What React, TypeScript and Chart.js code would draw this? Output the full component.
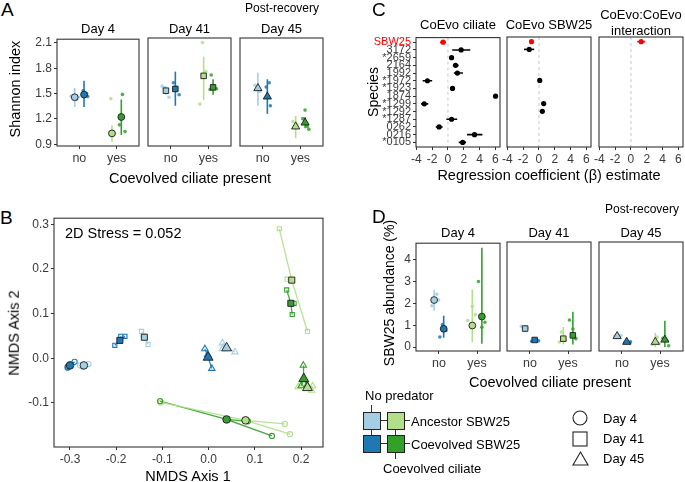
import React, { useEffect, useRef } from 'react';
import { Chart, registerables } from 'chart.js';

Chart.register(...registerables);

const FONT = '"Liberation Sans", Arial, Helvetica, sans-serif';
const INK = '#1a1a1a';
const AXIS_INK = '#333333';
const TICK_TEXT = '#3a3a3a';

// ---------- shared factors ----------
const ciliateLevels = ['no', 'yes'];
const dayLabels = ['Day 4', 'Day 41', 'Day 45'];
const dayShapes = ['circle', 'rect', 'triangle'];
const groupNames = [
  'Ancestor SBW25, no predator',
  'Coevolved SBW25, no predator',
  'Ancestor SBW25, coevolved ciliate',
  'Coevolved SBW25, coevolved ciliate',
];
const groupColors = ['#a6cee3', '#1f78b4', '#b2df8a', '#33a02c'];
const groupCiliate = [0, 0, 1, 1];

// ---------- A: Shannon index ----------
const shannonTicks = [0.9, 1.2, 1.5, 1.8, 2.1];
const shannonMean = [
  [1.457, 1.488, 1.029, 1.223],
  [1.527, 1.547, 1.7, 1.566],
  [1.555, 1.457, 1.107, 1.153],
];
const shannonLow = [
  [1.34, 1.34, 0.93, 1.01],
  [1.48, 1.35, 1.42, 1.48],
  [1.35, 1.255, 0.97, 1.087],
];
const shannonHigh = [
  [1.567, 1.652, 1.126, 1.43],
  [1.58, 1.75, 1.925, 1.66],
  [1.737, 1.66, 1.23, 1.22],
];
// replicates: [jitter, value]
const shannonReps = [
  [
    [[-0.1, 1.47], [0.06, 1.43], [0.1, 1.46]],
    [[-0.02, 1.535], [0.07, 1.5], [0.1, 1.465]],
    [[-0.03, 1.44], [-0.07, 1.035], [0.07, 1.03]],
    [[0.03, 1.49], [-0.05, 1.13], [0.1, 1.05]],
  ],
  [
    [[-0.1, 1.58], [0.08, 1.45], [-0.05, 1.56]],
    [[-0.05, 1.62], [0.1, 1.48], [0.0, 1.57]],
    [[-0.03, 2.09], [0.06, 1.75], [-0.1, 1.37]],
    [[-0.05, 1.71], [-0.08, 1.54], [0.09, 1.55]],
  ],
  [
    [[-0.08, 1.59], [0.0, 1.55], [0.05, 1.52]],
    [[-0.03, 1.57], [0.05, 1.62], [0.08, 1.35]],
    [[-0.07, 1.165], [0.04, 1.126], [0.0, 1.1]],
    [[0.0, 1.3], [-0.06, 1.2], [0.1, 1.075], [0.06, 1.107]],
  ],
];

// ---------- D: SBW25 abundance ----------
const abundTicks = [0, 1, 2, 3, 4];
const abundMean = [
  [2.16, 0.84, 0.99, 1.4],
  [0.84, 0.32, 0.38, 0.53],
  [0.49, 0.23, 0.23, 0.33],
];
const abundLow = [
  [1.67, 0.43, 0.23, 0.15],
  [0.68, 0.23, 0.12, 0.12],
  [0.38, 0.12, 0.0, 0.0],
];
const abundHigh = [
  [2.62, 1.44, 2.66, 4.56],
  [0.99, 0.43, 0.91, 1.6],
  [0.6, 0.33, 0.64, 1.19],
];
const abundReps = [
  [
    [[-0.06, 1.9], [0.07, 2.43], [0.12, 2.16]],
    [[-0.1, 0.46], [-0.03, 1.03], [0.06, 0.76]],
    [[-0.12, 1.22], [0.0, 1.86], [0.08, 1.49]],
    [[-0.09, 3.01], [0.0, 0.91], [0.08, 1.14]],
  ],
  [
    [[-0.1, 0.94], [0.05, 0.86], [0.0, 0.74]],
    [[-0.08, 0.26], [0.05, 0.33], [0.1, 0.28]],
    [[-0.05, 0.68], [-0.1, 0.23], [0.06, 0.3]],
    [[-0.09, 1.23], [0.0, 0.82], [0.08, 0.38]],
  ],
  [
    [[-0.06, 0.5], [0.05, 0.45], [0.1, 0.52]],
    [[-0.05, 0.2], [0.08, 0.18], [0.1, 0.24]],
    [[-0.08, 0.12], [0.05, 0.45], [0.1, 0.15]],
    [[0.1, 0.06], [-0.05, 0.4], [0.05, 0.3]],
  ],
];

// ---------- B: NMDS ----------
const nmdsXTicks = [-0.3, -0.2, -0.1, 0.0, 0.1, 0.2];
const nmdsYTicks = [-0.1, 0.0, 0.1, 0.2, 0.3];
const nmdsStress = '2D Stress = 0.052';
const nmdsMeans = [
  [[-0.27, -0.016], [-0.3, -0.016], [0.08, -0.139], [0.039, -0.137]],
  [[-0.139, 0.047], [-0.192, 0.04], [0.18, 0.175], [0.178, 0.123]],
  [[0.039, 0.023], [-0.001, 0.002], [0.214, -0.066], [0.206, -0.046]],
];
const nmdsReps = [
  [
    [[-0.26, -0.013], [-0.272, -0.019], [-0.278, -0.016]],
    [[-0.305, -0.021], [-0.29, -0.008], [-0.305, -0.019]],
    [[-0.103, -0.099], [0.165, -0.147], [0.176, -0.17]],
    [[-0.105, -0.096], [0.137, -0.174], [0.085, -0.141]],
  ],
  [
    [[-0.145, 0.06], [-0.131, 0.031], [-0.141, 0.05]],
    [[-0.203, 0.029], [-0.19, 0.049], [-0.181, 0.049]],
    [[0.153, 0.29], [0.17, 0.177], [0.214, 0.06]],
    [[0.169, 0.153], [0.185, 0.123], [0.181, 0.098]],
  ],
  [
    [[0.03, 0.034], [0.057, 0.014], [0.03, 0.021]],
    [[-0.008, 0.021], [0.007, -0.023], [-0.002, 0.008]],
    [[0.194, -0.064], [0.223, -0.072], [0.225, -0.062]],
    [[0.205, -0.016], [0.213, -0.06], [0.2, -0.062]],
  ],
];

// ---------- C: regression coefficients ----------
const species = ['SBW25', '3172', '*2659', '2164', '1992', '*1972', '*1923', '1874', '*1299', '*1292', '*1287', '0262', '0216', '*0105'];
const coefTicks = [-4, -2, 0, 2, 4, 6];
const coefTitles = ['CoEvo ciliate', 'CoEvo SBW25'];
const coefCiliate = [-0.62, 1.67, 0.46, 0.96, 1.2, -2.6, 0.58, 6.04, -3.0, null, 0.46, -1.12, 3.37, 1.87];
const coefCiliateLo = [-1.0, 0.54, 0.3, 0.65, 0.75, -3.2, 0.42, 5.9, -3.4, null, -0.2, -1.54, 2.42, 1.37];
const coefCiliateHi = [-0.25, 2.83, 0.62, 1.35, 1.9, -2.0, 0.74, 6.18, -2.5, null, 1.17, -0.67, 4.37, 2.3];
const coefSbw = [-0.94, -1.23, null, null, null, 0.1, null, null, 0.6, 0.43, null, null, null, null];
const coefSbwLo = [-1.15, -1.9, null, null, null, -0.05, null, null, 0.45, 0.25, null, null, null, null];
const coefSbwHi = [-0.75, -0.6, null, null, null, 0.25, null, null, 0.75, 0.6, null, null, null, null];
const coefInter = [1.3, null, null, null, null, null, null, null, null, null, null, null, null, null];
const coefInterLo = [0.8, null, null, null, null, null, null, null, null, null, null, null, null, null];
const coefInterHi = [1.8, null, null, null, null, null, null, null, null, null, null, null, null, null];

// ---------- layout constants ----------
const DODGE = [-0.125, 0.125, -0.125, 0.125];
const MEAN_R = [3.4, 3.9, 4.7];
const NMDS_MEAN_R = [3.8, 4.3, 5.7];
const NMDS_REP_R = [2.6, 2.9, 3.7];
const TICK_SIZE = 12;

const toRgba = (hex: string, a: number) => {
  const n = parseInt(hex.slice(1), 16);
  return `rgba(${(n >> 16) & 255},${(n >> 8) & 255},${n & 255},${a})`;
};

type Box = { l: number; t: number; r: number; b: number };
type Pad = { l: number; t: number; r: number; b: number };
type Spec = { key: string; box: Box; pad: Pad; build: (pad: Pad) => any };

const panelBorder = {
  id: 'panelBorder',
  afterDatasetsDraw(chart: any) {
    const { ctx, chartArea } = chart;
    ctx.save();
    ctx.strokeStyle = AXIS_INK;
    ctx.lineWidth = 1.1;
    ctx.strokeRect(chartArea.left, chartArea.top, chartArea.right - chartArea.left, chartArea.bottom - chartArea.top);
    ctx.restore();
  },
};

function axis(opts: {
  min: number; max: number; ticks: number[]; fmt: (v: number) => string; size: number;
  show: boolean; vertical: boolean; reverse?: boolean; fontSize?: number; color?: any;
}) {
  return {
    type: 'linear',
    min: opts.min,
    max: opts.max,
    reverse: !!opts.reverse,
    afterBuildTicks: (s: any) => {
      s.ticks = opts.ticks.map((v) => ({ value: v }));
    },
    afterFit: (s: any) => {
      if (opts.vertical) s.width = opts.size;
      else s.height = opts.size;
    },
    ticks: {
      display: opts.show,
      autoSkip: false,
      maxRotation: 0,
      minRotation: 0,
      padding: 2,
      color: opts.color || TICK_TEXT,
      font: { family: FONT, size: opts.fontSize || TICK_SIZE },
      callback: (v: any) => opts.fmt(Number(v)),
    },
    grid: { display: opts.show, drawOnChartArea: false, drawTicks: true, tickLength: 3, color: AXIS_INK, lineWidth: 1 },
    border: { display: false },
  };
}

function baseConfig(datasets: any[], pad: Pad, x: any, y: any) {
  return {
    type: 'scatter',
    data: { datasets },
    options: {
      animation: false,
      responsive: false,
      events: [],
      layout: { padding: { left: 0, top: pad.t, right: pad.r, bottom: 0 } },
      plugins: { legend: { display: false }, tooltip: { enabled: false }, title: { display: false } },
      scales: { x, y },
    },
    plugins: [panelBorder],
  };
}

function facetDatasets(d: number, mean: number[][], lo: number[][], hi: number[][], reps: number[][][][]) {
  const ds: any[] = [];
  groupColors.forEach((c, g) => {
    const x0 = groupCiliate[g] + 1 + DODGE[g];
    ds.push({
      label: groupNames[g] + ' replicates',
      data: reps[d][g].map(([dx, v]) => ({ x: x0 + dx, y: v })),
      pointRadius: 1.8,
      pointBackgroundColor: toRgba(c, 0.85),
      pointBorderWidth: 0,
      order: 30 - g,
    });
    ds.push({
      label: groupNames[g] + ' interval',
      data: [{ x: x0, y: lo[d][g] }, { x: x0, y: hi[d][g] }],
      showLine: true,
      borderColor: c,
      borderWidth: 1.6,
      pointRadius: 0,
      order: 20 - g,
    });
    ds.push({
      label: groupNames[g],
      data: [{ x: x0, y: mean[d][g] }],
      pointStyle: dayShapes[d],
      pointRadius: MEAN_R[d],
      pointBackgroundColor: c,
      pointBorderColor: INK,
      pointBorderWidth: 0.9,
      order: 10 - g,
    });
  });
  return ds;
}

function facetSpec(key: string, d: number, box: Box, pad: Pad, mean: number[][], lo: number[][], hi: number[][], reps: number[][][][], yMin: number, yMax: number, yTicks: number[], yFmt: (v: number) => string): Spec {
  return {
    key, box, pad,
    build: (p) => baseConfig(
      facetDatasets(d, mean, lo, hi, reps),
      p,
      axis({ min: 0.4, max: 2.6, ticks: [1, 2], fmt: (v) => ciliateLevels[v - 1], size: p.b, show: true, vertical: false, fontSize: 12.5 }),
      axis({ min: yMin, max: yMax, ticks: yTicks, fmt: yFmt, size: p.l, show: d === 0, vertical: true }),
    ),
  };
}

function nmdsSpec(): Spec {
  const box = { l: 54, t: 217, r: 323, b: 447 };
  const pad = { l: 40, t: 8, r: 10, b: 24 };
  return {
    key: 'B', box, pad,
    build: (p) => {
      const ds: any[] = [];
      nmdsMeans.forEach((day, d) => {
        day.forEach((m, g) => {
          const pts: any[] = [];
          nmdsReps[d][g].forEach((r) => {
            pts.push({ x: m[0], y: m[1] });
            pts.push({ x: r[0], y: r[1] });
          });
          ds.push({ label: 'spokes', data: pts, showLine: true, borderColor: toRgba(groupColors[g], 0.9), borderWidth: 1.3, pointRadius: 0, order: 30 });
        });
        ds.push({
          label: dayLabels[d] + ' replicates',
          data: nmdsReps[d].flatMap((reps) => reps.map((r) => ({ x: r[0], y: r[1] }))),
          pointStyle: dayShapes[d],
          pointRadius: NMDS_REP_R[d],
          pointBackgroundColor: 'rgba(255,255,255,0)',
          pointBorderColor: nmdsReps[d].flatMap((reps, g) => reps.map(() => groupColors[g])),
          pointBorderWidth: 1.1,
          order: 20,
        });
        ds.push({
          label: dayLabels[d] + ' centroids',
          data: day.map((m) => ({ x: m[0], y: m[1] })),
          pointStyle: dayShapes[d],
          pointRadius: NMDS_MEAN_R[d],
          pointBackgroundColor: groupColors,
          pointBorderColor: INK,
          pointBorderWidth: 0.9,
          order: 10 - d,
        });
      });
      return baseConfig(
        ds, p,
        axis({ min: -0.3346, max: 0.2476, ticks: nmdsXTicks, fmt: (v) => v.toFixed(1), size: p.b, show: true, vertical: false }),
        axis({ min: -0.1987, max: 0.3136, ticks: nmdsYTicks, fmt: (v) => v.toFixed(1), size: p.l, show: true, vertical: true }),
      );
    },
  };
}

function coefSpec(key: string, col: number, box: Box, pad: Pad, mean: (number | null)[], lo: (number | null)[], hi: (number | null)[]): Spec {
  return {
    key, box, pad,
    build: (p) => {
      const ds: any[] = [];
      ds.push({ label: 'zero', data: [{ x: 0, y: -0.6 }, { x: 0, y: 13.6 }], showLine: true, borderColor: '#c8c8c8', borderWidth: 1, borderDash: [3, 3], pointRadius: 0, order: 40 });
      const pts: any[] = [];
      const cols: string[] = [];
      mean.forEach((m, i) => {
        if (m === null) return;
        const c = i === 0 ? '#ff0000' : '#000000';
        ds.push({ label: species[i], data: [{ x: lo[i], y: i }, { x: hi[i], y: i }], showLine: true, borderColor: c, borderWidth: 1.6, pointRadius: 0, order: 20 });
        pts.push({ x: m, y: i });
        cols.push(c);
      });
      ds.push({ label: 'estimates', data: pts, pointRadius: 2.6, pointBackgroundColor: cols, pointBorderWidth: 0, order: 10 });
      return baseConfig(
        ds, p,
        axis({ min: -4.05, max: 6.6, ticks: coefTicks, fmt: (v) => String(v), size: p.b, show: true, vertical: false }),
        axis({
          min: -0.6, max: 13.6, ticks: species.map((_, i) => i), fmt: (v) => species[v], size: p.l, show: col === 0, vertical: true, reverse: true, fontSize: 11,
          color: (c: any) => (c.tick && c.tick.value === 0 ? '#ff0000' : TICK_TEXT),
        }),
      );
    },
  };
}

const A_X = [[57, 139], [148, 231], [240, 323]];
const CD_X = [[416, 500], [507, 591], [599, 683]];

const specs: Spec[] = [
  ...A_X.map(([l, r], d) =>
    facetSpec('A' + d, d, { l, r, t: 38, b: 146 }, { l: d === 0 ? 40 : 10, t: 8, r: 10, b: 24 }, shannonMean, shannonLow, shannonHigh, shannonReps, 0.88, 2.143, shannonTicks, (v) => v.toFixed(1)),
  ),
  nmdsSpec(),
  coefSpec('C0', 0, { l: CD_X[0][0], r: CD_X[0][1], t: 37, b: 147 }, { l: 62, t: 8, r: 10, b: 24 }, coefCiliate, coefCiliateLo, coefCiliateHi),
  coefSpec('C1', 1, { l: CD_X[1][0], r: CD_X[1][1], t: 37, b: 147 }, { l: 10, t: 8, r: 10, b: 24 }, coefSbw, coefSbwLo, coefSbwHi),
  coefSpec('C2', 2, { l: CD_X[2][0], r: CD_X[2][1], t: 37, b: 147 }, { l: 10, t: 8, r: 10, b: 24 }, coefInter, coefInterLo, coefInterHi),
  ...CD_X.map(([l, r], d) =>
    facetSpec('D' + d, d, { l, r, t: 242, b: 351 }, { l: d === 0 ? 30 : 10, t: 8, r: 10, b: 24 }, abundMean, abundLow, abundHigh, abundReps, -0.18, 4.77, abundTicks, (v) => String(v)),
  ),
];

function ChartBox({ spec }: { spec: Spec }) {
  const ref = useRef<HTMLCanvasElement>(null);
  const { box, pad } = spec;
  const w = box.r - box.l + pad.l + pad.r;
  const h = box.b - box.t + pad.t + pad.b;
  useEffect(() => {
    const chart = new Chart(ref.current as HTMLCanvasElement, spec.build(pad) as any);
    return () => chart.destroy();
  }, []);
  return (
    <canvas
      ref={ref}
      width={w}
      height={h}
      style={{ position: 'absolute', left: box.l - pad.l, top: box.t - pad.t, width: w, height: h }}
    />
  );
}

function Txt({ x, y, children, size = 13, align = 'center', rotate = false, color = '#000' }: any) {
  const tx = align === 'center' ? '-50%' : align === 'left' ? '0' : '-100%';
  return (
    <div
      style={{
        position: 'absolute', left: x, top: y,
        transform: `translate(${tx},-50%)${rotate ? ' rotate(-90deg)' : ''}`,
        fontFamily: FONT, fontSize: size, lineHeight: 1, whiteSpace: 'nowrap', color,
      }}
    >
      {children}
    </div>
  );
}

function Line({ x1, y1, x2, y2 }: any) {
  return <div style={{ position: 'absolute', left: Math.min(x1, x2), top: Math.min(y1, y2), width: Math.max(1, Math.abs(x2 - x1)), height: Math.max(1, Math.abs(y2 - y1)), background: '#333' }} />;
}

function Sq({ x, y, c }: any) {
  return <div style={{ position: 'absolute', left: x, top: y, width: 16, height: 16, background: c, border: '1px solid #222' }} />;
}

export default function App() {
  return (
    <div style={{ position: 'fixed', left: 0, top: 0, width: 685, height: 482, overflow: 'hidden', background: '#fff' }}>
      {specs.map((s) => <ChartBox key={s.key} spec={s} />)}

      {/* Panel A text */}
      <Txt x={1} y={9} size={19} align="left">A</Txt>
      <Txt x={282} y={8} size={12}>Post-recovery</Txt>
      {A_X.map(([l, r], d) => <Txt key={'at' + d} x={(l + r) / 2} y={28} size={13}>{dayLabels[d]}</Txt>)}
      <Txt x={15} y={89} size={14.5} rotate>Shannon index</Txt>
      <Txt x={190} y={178} size={14.5}>Coevolved ciliate present</Txt>

      {/* Panel B text */}
      <Txt x={0} y={217} size={19} align="left">B</Txt>
      <Txt x={65} y={233} size={14.5} align="left">{nmdsStress}</Txt>
      <Txt x={14} y={333} size={14.5} rotate>NMDS Axis 2</Txt>
      <Txt x={188} y={476} size={14.5}>NMDS Axis 1</Txt>

      {/* Panel C text */}
      <Txt x={372} y={9} size={19} align="left">C</Txt>
      <Txt x={(CD_X[0][0] + CD_X[0][1]) / 2} y={24} size={13}>{coefTitles[0]}</Txt>
      <Txt x={(CD_X[1][0] + CD_X[1][1]) / 2} y={24} size={13}>{coefTitles[1]}</Txt>
      <Txt x={(CD_X[2][0] + CD_X[2][1]) / 2} y={14} size={13}>CoEvo:CoEvo</Txt>
      <Txt x={(CD_X[2][0] + CD_X[2][1]) / 2} y={30} size={13}>interaction</Txt>
      <Txt x={373} y={92} size={14} rotate>Species</Txt>
      <Txt x={549} y={175} size={14.5}>Regression coefficient (β) estimate</Txt>

      {/* Panel D text */}
      <Txt x={372} y={216} size={19} align="left">D</Txt>
      <Txt x={642} y={209} size={12}>Post-recovery</Txt>
      {CD_X.map(([l, r], d) => <Txt key={'dt' + d} x={(l + r) / 2} y={232} size={13}>{dayLabels[d]}</Txt>)}
      <Txt x={389} y={293} size={14} rotate>SBW25 abundance (%)</Txt>
      <Txt x={550} y={382} size={14.5}>Coevolved ciliate present</Txt>

      {/* Legend: colour */}
      <Txt x={365} y={395} size={13} align="left">No predator</Txt>
      <Line x1={371} y1={405} x2={372} y2={412} />
      <Line x1={380} y1={420} x2={387} y2={421} />
      <Line x1={380} y1={443} x2={387} y2={444} />
      <Line x1={371} y1={429} x2={372} y2={435} />
      <Line x1={395} y1={429} x2={396} y2={435} />
      <Line x1={404} y1={420} x2={410} y2={421} />
      <Line x1={404} y1={443} x2={410} y2={444} />
      <Line x1={395} y1={452} x2={396} y2={459} />
      <Sq x={363} y={412} c={groupColors[0]} />
      <Sq x={387} y={412} c={groupColors[2]} />
      <Sq x={363} y={435} c={groupColors[1]} />
      <Sq x={387} y={435} c={groupColors[3]} />
      <Txt x={411} y={421} size={13} align="left">Ancestor SBW25</Txt>
      <Txt x={411} y={444} size={13} align="left">Coevolved SBW25</Txt>
      <Txt x={383} y={468} size={13} align="left">Coevolved ciliate</Txt>

      {/* Legend: shape */}
      <svg width={30} height={60} style={{ position: 'absolute', left: 565, top: 408 }}>
        <circle cx={15} cy={10} r={7} fill="none" stroke="#222" strokeWidth={1.1} />
        <rect x={8} y={24} width={14} height={14} fill="none" stroke="#222" strokeWidth={1.1} />
        <polygon points="15.5,44 23,57 8,57" fill="none" stroke="#222" strokeWidth={1.1} />
      </svg>
      <Txt x={603} y={418} size={13} align="left">{dayLabels[0]}</Txt>
      <Txt x={603} y={438} size={13} align="left">{dayLabels[1]}</Txt>
      <Txt x={603} y={458} size={13} align="left">{dayLabels[2]}</Txt>
    </div>
  );
}
